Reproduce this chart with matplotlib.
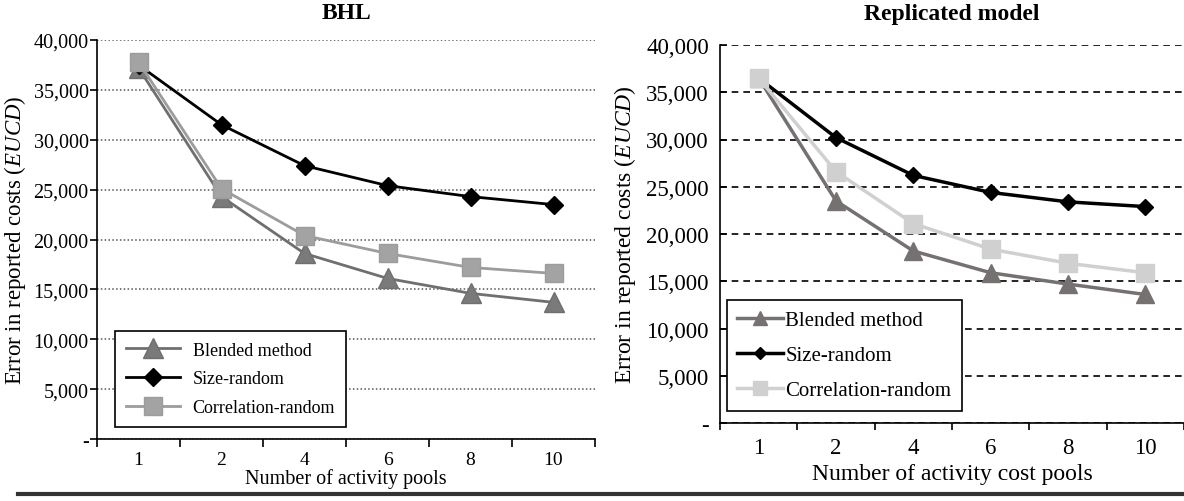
import numpy as np
import matplotlib.pyplot as plt
from matplotlib.lines import Line2D
from matplotlib.ticker import FuncFormatter

# DATA
pools = ["1", "2", "4", "6", "8", "10"]

bhl_blended = [37200, 24300, 18600, 16100, 14600, 13700]
bhl_size = [37500, 31500, 27400, 25400, 24300, 23500]
bhl_corr = [37800, 25100, 20400, 18600, 17200, 16600]

rep_blended = [36500, 23500, 18200, 15900, 14700, 13600]
rep_size = [36500, 30200, 26200, 24400, 23400, 22900]
rep_corr = [36500, 26600, 21100, 18400, 16900, 15900]

y_ticks = [0, 5000, 10000, 15000, 20000, 25000, 30000, 35000, 40000]

# STYLE
plt.rcParams["font.family"] = ["Liberation Serif", "DejaVu Serif"]
plt.rcParams["mathtext.fontset"] = "custom"
plt.rcParams["mathtext.it"] = "Liberation Serif:italic"
plt.rcParams["mathtext.rm"] = "Liberation Serif"


def fmt(v, pos):
    return "-" if v == 0 else f"{int(v):,}"


fig = plt.figure(figsize=(11.84, 5.02), dpi=100)
x = np.arange(1, len(pools) + 1)

# LEFT PANEL (BHL)
ax1 = fig.add_axes([97 / 1184, 1 - 440 / 502, 498 / 1184, 399 / 502])
ax1.plot(x, bhl_size, color="black", lw=2, marker="D", ms=9, label="Size-random", zorder=3)
ax1.plot(x, bhl_corr, color="#9c9c9c", lw=2, marker="s", ms=13, mfc="#a3a3a3", mec="#9c9c9c",
         label="Correlation-random", zorder=4)
ax1.plot(x, bhl_blended, color="#6f6f6f", lw=2, marker="^", ms=14, mfc="#7a7a7a", mec="#6f6f6f",
         label="Blended method", zorder=2)
ax1.set_title("BHL", fontsize=17, fontweight="bold", pad=16)
ax1.set_xlabel("Number of activity pools", fontsize=14.5, labelpad=0)
ax1.set_ylabel("Error in reported costs ($\\it{EUCD}$)", fontsize=16.5, labelpad=4)
ax1.set_xlim(0.5, 6.5)
ax1.set_ylim(0, 40000)
ax1.set_yticks(y_ticks)
ax1.yaxis.set_major_formatter(FuncFormatter(fmt))
ax1.grid(axis="y", ls=(0, (1, 1.5)), color="#555555", lw=1.1)
ax1.set_xticks(x)
ax1.set_xticklabels(pools)
ax1.set_xticks(np.arange(0.5, 7, 1), minor=True)
ax1.tick_params(axis="x", which="major", length=0, labelsize=14, pad=9)
ax1.tick_params(axis="x", which="minor", length=6, width=1.2, direction="out")
ax1.tick_params(axis="y", length=5, width=1.2, direction="out", labelsize=14.5, pad=1)
for s in ["top", "right"]:
    ax1.spines[s].set_visible(False)
for s in ["left", "bottom"]:
    ax1.spines[s].set_linewidth(1.2)
h, l = ax1.get_legend_handles_labels()
order = [2, 0, 1]
leg1 = ax1.legend([h[i] for i in order], [l[i] for i in order], loc="lower left",
                  bbox_to_anchor=(0.036, 0.03), borderaxespad=0, fontsize=13, frameon=True,
                  fancybox=False, edgecolor="black", framealpha=1, handlelength=3.0,
                  handletextpad=0.7, borderpad=0.6, labelspacing=0.65)
leg1.get_frame().set_linewidth(1.2)

# RIGHT PANEL (Replicated model)
ax2 = fig.add_axes([720 / 1184, 1 - 424 / 502, 464 / 1184, 378 / 502])
ax2.plot(x, rep_size, color="black", lw=2.5, marker="D", ms=8, label="Size-random", zorder=3)
ax2.plot(x, rep_corr, color="#d0d0d0", lw=2.5, marker="s", ms=13, label="Correlation-random",
         zorder=4)
ax2.plot(x, rep_blended, color="#767171", lw=2.5, marker="^", ms=13, label="Blended method",
         zorder=2)
ax2.set_title("Replicated model", fontsize=17, fontweight="bold", pad=19)
ax2.set_xlabel("Number of activity cost pools", fontsize=17, labelpad=4)
ax2.set_ylabel("Error in reported costs ($\\it{EUCD}$)", fontsize=17, labelpad=6)
ax2.set_xlim(0.5, 6.45)
ax2.set_ylim(0, 40000)
ax2.set_yticks(y_ticks)
ax2.yaxis.set_major_formatter(FuncFormatter(fmt))
ax2.grid(axis="y", ls=(0, (4, 3)), color="black", lw=1.2)
ax2.set_xticks(x)
ax2.set_xticklabels(pools)
ax2.set_xticks(np.arange(0.5, 7, 1), minor=True)
ax2.tick_params(axis="x", which="major", length=0, labelsize=16.5, pad=10)
ax2.tick_params(axis="x", which="minor", length=5, width=1.2, direction="out")
ax2.tick_params(axis="y", length=5, width=1.2, direction="in", labelsize=16.5, pad=8)
for s in ["top", "right"]:
    ax2.spines[s].set_visible(False)
for s in ["left", "bottom"]:
    ax2.spines[s].set_linewidth(1.2)
h, l = ax2.get_legend_handles_labels()
leg2 = ax2.legend([h[i] for i in order], [l[i] for i in order], loc="lower left",
                  bbox_to_anchor=(0.015, 0.032), borderaxespad=0, fontsize=15, frameon=True,
                  fancybox=False, edgecolor="black", framealpha=1, handlelength=2.2,
                  handletextpad=0.1, borderpad=0.5, labelspacing=0.75, markerscale=0.75)
leg2.get_frame().set_linewidth(1.2)

# bottom rule
fig.add_artist(Line2D([18 / 1184, 1], [1 - 495 / 502] * 2, color="#333333", lw=3))

fig.savefig("out.png", dpi=100)
